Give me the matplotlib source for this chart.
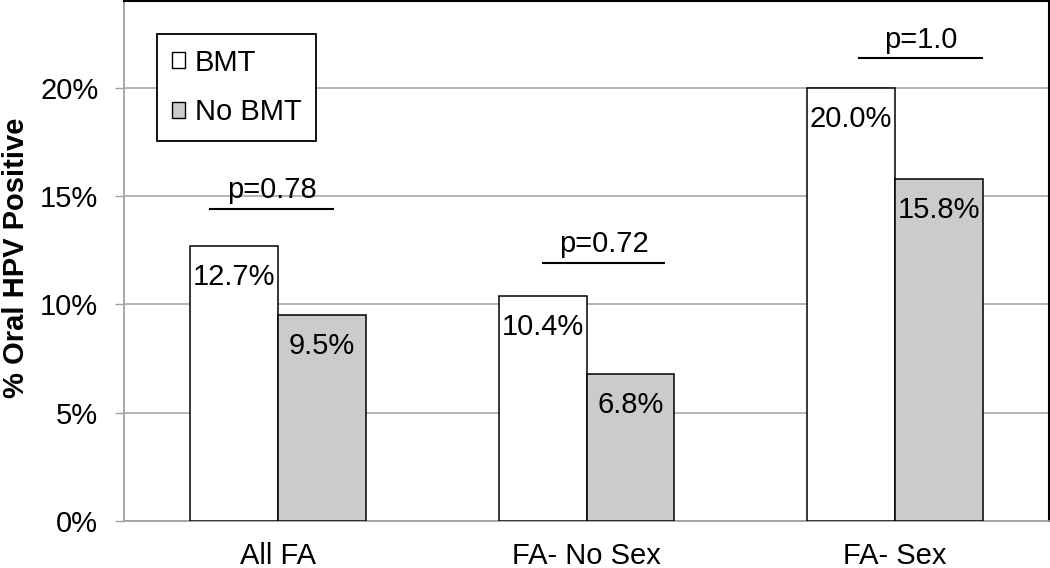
import matplotlib.pyplot as plt
import numpy as np
from matplotlib.patches import Patch

plt.rcParams['font.family'] = ['Liberation Sans', 'DejaVu Sans']

# data
categories = ['All FA', 'FA- No Sex', 'FA- Sex']
bmt = [12.7, 10.4, 20.0]
no_bmt = [9.5, 6.8, 15.8]
series_names = ['BMT', 'No BMT']

# p-value brackets: (label, x start, x end, y of line)
p_labels = ['p=0.78', 'p=0.72', 'p=1.0']
p_x0 = [-0.22, 0.858, 1.883]
p_x1 = [0.178, 1.252, 2.282]
p_y = [14.4, 11.9, 21.35]

fig = plt.figure(figsize=(10.5, 5.68), dpi=100)
ax = fig.add_axes([124 / 1050, 47 / 568, 925 / 1050, 520 / 568])

x = np.arange(len(categories))
w = 0.285
b1 = ax.bar(x - w / 2, bmt, w, color='white', edgecolor='black', linewidth=1.1, zorder=3)
b2 = ax.bar(x + w / 2, no_bmt, w, color='#cbcbcb', edgecolor='black', linewidth=1.1, zorder=3)

for bars, vals in [(b1, bmt), (b2, no_bmt)]:
    for rect, v in zip(bars, vals):
        ax.annotate('{:.1f}%'.format(v), (rect.get_x() + rect.get_width() / 2, v),
                    xytext=(0, -22.5), textcoords='offset points',
                    ha='center', va='center', fontsize=21, zorder=4)

for lab, a, b, yy in zip(p_labels, p_x0, p_x1, p_y):
    ax.plot([a, b], [yy, yy], color='black', linewidth=1.5, zorder=4)
    ax.text((a + b) / 2, yy + 0.5, lab, ha='center', va='baseline', fontsize=21, zorder=4)

ax.set_xlim(-0.5, 2.5)
ax.set_ylim(0, 24)
ax.set_yticks([0, 5, 10, 15, 20])
ax.set_yticklabels(['0%', '5%', '10%', '15%', '20%'])
ax.set_xticks(x)
ax.set_xticklabels(categories)
ax.tick_params(axis='y', length=6.5, width=1, color='#a0a0a0', pad=12, labelsize=21)
ax.tick_params(axis='x', length=0, pad=15, labelsize=21)
ax.yaxis.grid(True, color='#a0a0a0', linewidth=1.1, zorder=0)
ax.set_axisbelow(True)

for s in ['left', 'bottom']:
    ax.spines[s].set_color('#a0a0a0')
    ax.spines[s].set_linewidth(1.3)
for s in ['top', 'right']:
    ax.spines[s].set_color('black')
    ax.spines[s].set_linewidth(1.5)

fig.text(16 / 1050, 1 - 258 / 568, '% Oral HPV Positive', rotation=90, ha='center', va='center',
         fontsize=21, fontweight='bold')

handles = [Patch(facecolor='white', edgecolor='black', linewidth=1),
           Patch(facecolor='#cbcbcb', edgecolor='black', linewidth=1)]
leg = ax.legend(handles, series_names, loc='upper left', bbox_to_anchor=(33 / 925, 1 - 33 / 520),
                borderaxespad=0, fontsize=21, handlelength=0.45, handleheight=0.45,
                handletextpad=0.35, labelspacing=0.75, borderpad=0.5,
                fancybox=False, framealpha=1, edgecolor='black')
leg.get_frame().set_linewidth(1.3)

fig.savefig('out.png', dpi=100)
